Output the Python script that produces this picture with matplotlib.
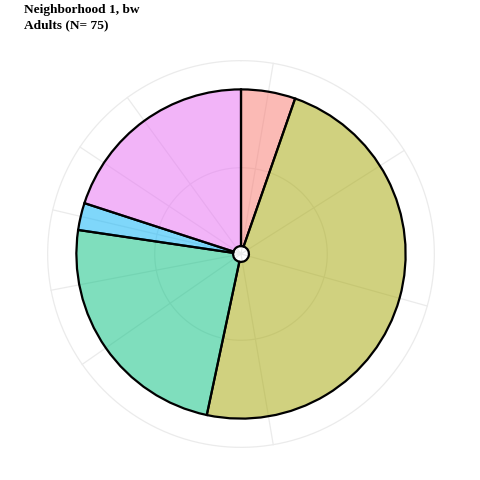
import numpy as np
import matplotlib
matplotlib.use("Agg")
import matplotlib.pyplot as plt
from matplotlib.colors import to_rgba

# Data
categories = ["A", "B", "C", "D", "E"]
counts = [4, 36, 18, 2, 15]
colors = ["#F8766D", "#A3A500", "#00BF7D", "#00B0F6", "#E76BF3"]
title_lines = ["Neighborhood 1, bw", "Adults (N= 75)"]

total = sum(counts)
cum = np.cumsum([0] + counts)
starts = cum[:-1]
mids = starts + np.array(counts) / 2.0
minor = (mids[:-1] + mids[1:]) / 2.0

fig = plt.figure(figsize=(4.8, 4.8), dpi=100)
ax = fig.add_axes([46 / 480, 31 / 480, 390 / 480, 390 / 480], projection="polar")
ax.set_theta_zero_location("N")
ax.set_theta_direction(-1)

R_pie = 166 / 165
R_out = 195 / 165
R_in = 87 / 165
hole = 8 / 165
ax.set_ylim(0, R_out + 0.01)
ax.set_xticks([])
ax.set_yticks([])
ax.grid(False)
ax.spines["polar"].set_visible(False)

to_rad = lambda v: np.asarray(v) / total * 2 * np.pi
grid_c = "#EBEBEB"
for v in list(mids) + list(minor):
    t = to_rad(v)
    ax.plot([t, t], [0, R_out], color=grid_c, lw=0.9, zorder=0)
tt = np.linspace(0, 2 * np.pi, 500)
for r in (R_in, R_out):
    ax.plot(tt, np.full_like(tt, r), color=grid_c, lw=0.9, zorder=0)

ax.bar(to_rad(starts), R_pie - hole, width=to_rad(counts), bottom=hole,
       align="edge", color=[to_rgba(c, 0.5) for c in colors],
       edgecolor="black", linewidth=1.6, zorder=2)

fig.text(24 / 480, 1 - 13 / 480, title_lines[0], family="Liberation Serif",
         weight="bold", fontsize=9.6, va="baseline", ha="left")
fig.text(24 / 480, 1 - 28 / 480, title_lines[1], family="Liberation Serif",
         weight="bold", fontsize=9.6, va="baseline", ha="left")

fig.savefig("out.png", dpi=100)
